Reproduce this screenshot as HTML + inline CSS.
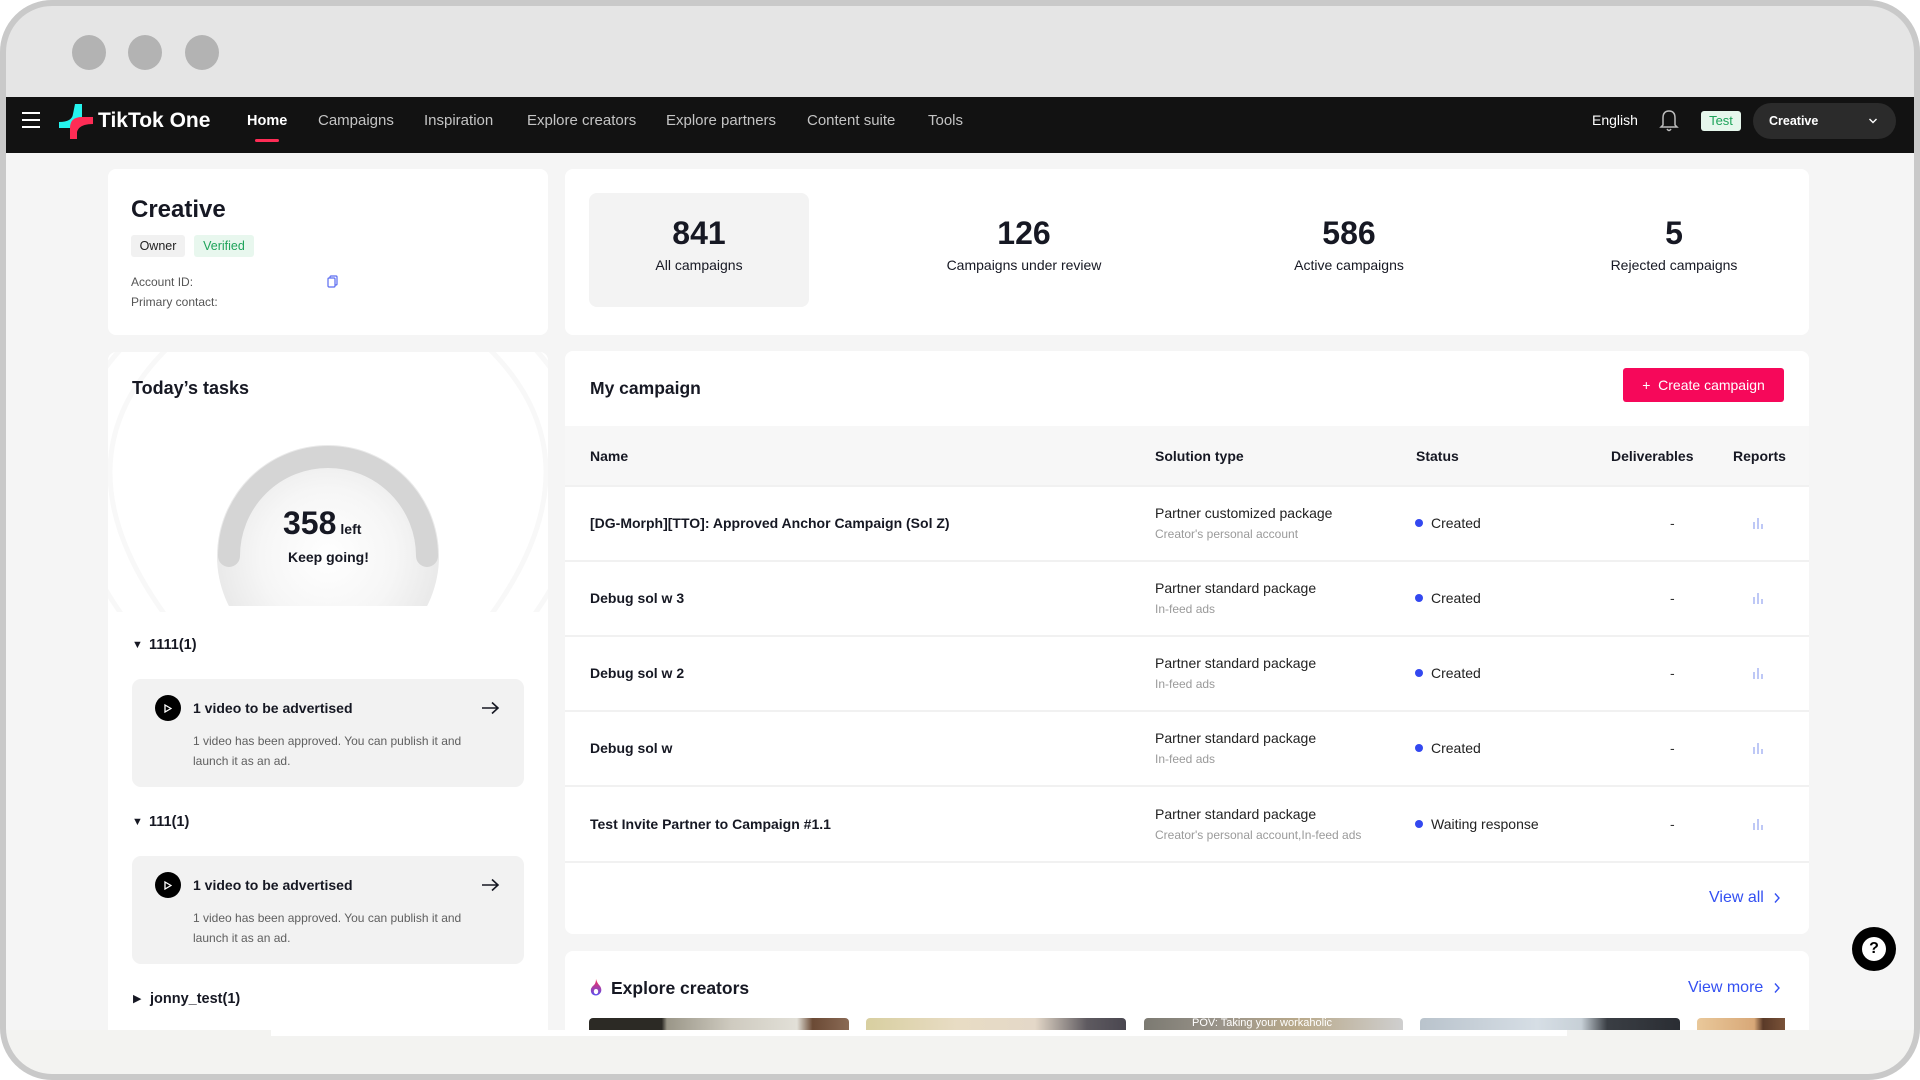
<!DOCTYPE html>
<html><head><meta charset="utf-8">
<style>
*{box-sizing:border-box;margin:0;padding:0}
html,body{width:1920px;height:1080px;overflow:hidden;background:#fff;font-family:"Liberation Sans",Arial,sans-serif;color:#161823}
.a{position:absolute}
.t{position:absolute;white-space:nowrap}
.card{position:absolute;background:#fff;border-radius:8px}
.nav{color:#c4c4c4;font-size:15px;line-height:20px;top:111px}
.th{font-size:14px;font-weight:bold;line-height:18px;top:447px;color:#161823}
.rn{font-size:14px;font-weight:bold;line-height:18px;color:#161823}
.s1{font-size:14px;line-height:18px;color:#222}
.s2{font-size:12px;line-height:16px;color:#9a9a9a}
.st{font-size:14px;line-height:18px;color:#222}
.dot{position:absolute;width:8px;height:8px;border-radius:50%;background:#3348f0}
.dash{font-size:14px;line-height:18px;color:#333}
.div{position:absolute;left:565px;width:1244px;height:2px;background:#f1f1f1}
.num{font-size:32px;font-weight:bold;line-height:36px;color:#161823;text-align:center;width:260px}
.lab{font-size:14px;line-height:18px;color:#161823;text-align:center;width:260px}
.task{position:absolute;left:132px;width:392px;height:108px;background:#f2f2f2;border-radius:9px}
.grp{font-size:14.5px;font-weight:bold;line-height:18px;color:#161823}
</style></head>
<body>
<!-- top chrome -->
<div class="a" style="left:0;top:0;width:1920px;height:97px;background:#e5e5e5"></div>
<div class="a" style="left:72px;top:35px;width:34px;height:35px;border-radius:50%;background:#b3b3b3"></div>
<div class="a" style="left:128px;top:35px;width:34px;height:35px;border-radius:50%;background:#b3b3b3"></div>
<div class="a" style="left:185px;top:35px;width:34px;height:35px;border-radius:50%;background:#b3b3b3"></div>

<!-- nav -->
<div class="a" style="left:0;top:97px;width:1920px;height:56px;background:#121212"></div>
<div class="a" style="left:22px;top:112px;width:18px;height:2px;background:#fff"></div>
<div class="a" style="left:22px;top:119px;width:18px;height:2px;background:#fff"></div>
<div class="a" style="left:22px;top:126px;width:18px;height:2px;background:#fff"></div>
<svg class="a" style="left:56px;top:102px" width="40" height="40" viewBox="56 102 40 40">
<path d="M75 104 L82 104 L82 121 Q82 128 75 128 L59 128 L59 122 Q72 122 73 114 Z" fill="#25f4ee"/>
<path d="M70 139 L70 128 Q70 117 82 117 L93 117 L93 124 Q79 124 77 132 L77 139 Z" fill="#fe2c55"/>
</svg>
<div class="t" style="left:98px;top:108px;font-size:21px;font-weight:bold;color:#fff;line-height:26px">TikTok One</div>
<div class="t nav" style="left:247px;color:#fff;font-weight:bold;font-size:14.5px">Home</div>
<div class="a" style="left:255px;top:139px;width:24px;height:3px;border-radius:2px;background:#fe2c55"></div>
<div class="t nav" style="left:318px">Campaigns</div>
<div class="t nav" style="left:424px">Inspiration</div>
<div class="t nav" style="left:527px">Explore creators</div>
<div class="t nav" style="left:666px">Explore partners</div>
<div class="t nav" style="left:807px">Content suite</div>
<div class="t nav" style="left:928px">Tools</div>
<div class="t" style="left:1592px;top:111px;font-size:14px;line-height:18px;color:#fff">English</div>
<svg class="a" style="left:1658px;top:109px" width="22" height="24" viewBox="0 0 22 24"><path d="M11 2 Q5 2 5 9 L5 16 L3 18 L19 18 L17 16 L17 9 Q17 2 11 2 Z" fill="none" stroke="#bdbdbd" stroke-width="1.5"/><path d="M9 20 Q11 23 13 20" fill="none" stroke="#bdbdbd" stroke-width="1.5"/></svg>
<div class="a" style="left:1701px;top:111px;width:40px;height:20px;border-radius:3px;background:#e6f7ec;color:#1ea35a;font-size:13px;line-height:20px;text-align:center">Test</div>
<div class="a" style="left:1753px;top:103px;width:143px;height:36px;border-radius:18px;background:#2b2b2b"></div>
<div class="t" style="left:1769px;top:113px;font-size:12.5px;font-weight:bold;color:#fff;line-height:16px">Creative</div>
<svg class="a" style="left:1868px;top:117px" width="10" height="8" viewBox="0 0 10 8"><path d="M1.5 2 L5 5.5 L8.5 2" fill="none" stroke="#fff" stroke-width="1.4"/></svg>

<!-- content bg -->
<div class="a" style="left:0;top:153px;width:1920px;height:877px;background:#f5f5f5"></div>

<!-- card1 profile -->
<div class="card" style="left:108px;top:169px;width:440px;height:166px"></div>
<div class="t" style="left:131px;top:196px;font-size:24px;font-weight:bold;line-height:28px">Creative</div>
<div class="a" style="left:131px;top:235px;width:54px;height:22px;border-radius:3px;background:#f1f1f1;font-size:12.5px;line-height:22px;text-align:center;color:#222">Owner</div>
<div class="a" style="left:194px;top:235px;width:60px;height:22px;border-radius:3px;background:#e8f7ee;font-size:12.5px;line-height:22px;text-align:center;color:#1ea35a">Verified</div>
<div class="t" style="left:131px;top:274px;font-size:12px;line-height:16px;color:#555">Account ID:</div>
<div class="t" style="left:131px;top:294px;font-size:12px;line-height:16px;color:#555">Primary contact:</div>
<svg class="a" style="left:327px;top:275px" width="11" height="13" viewBox="0 0 11 13"><rect x="3" y="1" width="7" height="9" rx="1" fill="none" stroke="#5b6cf0" stroke-width="1.2"/><rect x="1" y="3" width="7" height="9" rx="1" fill="#fff" stroke="#5b6cf0" stroke-width="1.2"/></svg>

<!-- card2 stats -->
<div class="card" style="left:565px;top:169px;width:1244px;height:166px"></div>
<div class="a" style="left:589px;top:193px;width:220px;height:114px;border-radius:8px;background:#f3f3f3"></div>
<div class="t num" style="left:569px;top:215px">841</div>
<div class="t lab" style="left:569px;top:256px">All campaigns</div>
<div class="t num" style="left:894px;top:215px">126</div>
<div class="t lab" style="left:894px;top:256px">Campaigns under review</div>
<div class="t num" style="left:1219px;top:215px">586</div>
<div class="t lab" style="left:1219px;top:256px">Active campaigns</div>
<div class="t num" style="left:1544px;top:215px">5</div>
<div class="t lab" style="left:1544px;top:256px">Rejected campaigns</div>

<!-- card3 tasks -->
<div class="card" style="left:108px;top:352px;width:440px;height:678px;overflow:hidden;border-radius:8px 8px 0 0">
<svg class="a" style="left:0;top:0" width="440" height="260" viewBox="108 352 440 260">
<g fill="none" stroke="#f8f8f8" stroke-width="5">
<path d="M372 270 Q720 440 372 740"/>
<path d="M394 250 Q780 440 394 760"/>
<path d="M416 230 Q840 440 416 780"/>
<path d="M438 210 Q900 440 438 800"/>
<path d="M284 270 Q-64 440 284 740"/>
<path d="M262 250 Q-124 440 262 760"/>
<path d="M240 230 Q-184 440 240 780"/>
</g>
<defs><radialGradient id="g1" cx="328" cy="556" r="112" gradientUnits="userSpaceOnUse"><stop offset="0" stop-color="#ffffff"/><stop offset="0.6" stop-color="#f6f6f6"/><stop offset="1" stop-color="#e9e9e9"/></radialGradient>
<clipPath id="cp"><rect x="100" y="300" width="460" height="306"/></clipPath></defs>
<circle cx="328" cy="556" r="111" fill="url(#g1)" clip-path="url(#cp)"/>
<path d="M229 556 A99 99 0 0 1 427 556" fill="none" stroke="#d5d5d5" stroke-width="22" stroke-linecap="round"/>
</svg>
</div>
<div class="t" style="left:132px;top:377px;font-size:18px;font-weight:bold;line-height:22px">Today’s tasks</div>
<div class="t" style="left:283px;top:505px;font-size:32px;font-weight:bold;line-height:36px">358<span style="font-size:14px;margin-left:4px">left</span></div>
<div class="t" style="left:288px;top:548px;font-size:14px;font-weight:bold;line-height:18px">Keep going!</div>

<div class="t" style="left:132px;top:636px;font-size:11px;line-height:18px">▼</div>
<div class="t grp" style="left:149px;top:636px">1111(1)</div>
<div class="task" style="top:679px"></div>
<div class="a" style="left:155px;top:695px;width:26px;height:26px;border-radius:50%;background:#000"></div>
<svg class="a" style="left:164px;top:704px" width="8" height="9" viewBox="0 0 8 9"><path d="M1 1 L7 4.5 L1 8 Z" fill="none" stroke="#fff" stroke-width="1.3"/></svg>
<div class="t" style="left:193px;top:699px;font-size:14px;font-weight:bold;line-height:18px">1 video to be advertised</div>
<svg class="a" style="left:481px;top:701px" width="19" height="14" viewBox="0 0 19 14"><path d="M1 7 L17 7 M11 1.5 L17 7 L11 12.5" fill="none" stroke="#161823" stroke-width="1.6"/></svg>
<div class="a" style="left:193px;top:731px;width:300px;font-size:12px;line-height:20px;color:#5f5f5f">1 video has been approved. You can publish it and launch it as an ad.</div>

<div class="t" style="left:132px;top:813px;font-size:11px;line-height:18px">▼</div>
<div class="t grp" style="left:149px;top:813px">111(1)</div>
<div class="task" style="top:856px"></div>
<div class="a" style="left:155px;top:872px;width:26px;height:26px;border-radius:50%;background:#000"></div>
<svg class="a" style="left:164px;top:881px" width="8" height="9" viewBox="0 0 8 9"><path d="M1 1 L7 4.5 L1 8 Z" fill="none" stroke="#fff" stroke-width="1.3"/></svg>
<div class="t" style="left:193px;top:876px;font-size:14px;font-weight:bold;line-height:18px">1 video to be advertised</div>
<svg class="a" style="left:481px;top:878px" width="19" height="14" viewBox="0 0 19 14"><path d="M1 7 L17 7 M11 1.5 L17 7 L11 12.5" fill="none" stroke="#161823" stroke-width="1.6"/></svg>
<div class="a" style="left:193px;top:908px;width:300px;font-size:12px;line-height:20px;color:#5f5f5f">1 video has been approved. You can publish it and launch it as an ad.</div>

<div class="t" style="left:133px;top:990px;font-size:11px;line-height:18px">▶</div>
<div class="t grp" style="left:150px;top:990px">jonny_test(1)</div>

<!-- card4 campaigns -->
<div class="card" style="left:565px;top:351px;width:1244px;height:583px"></div>
<div class="t" style="left:590px;top:377px;font-size:17.5px;font-weight:bold;line-height:22px;color:#161823">My campaign</div>
<div class="a" style="left:1623px;top:368px;width:161px;height:34px;border-radius:3px;background:#f6085a;color:#fff;font-size:14px;line-height:34px;text-align:center">+&nbsp; Create campaign</div>
<div class="a" style="left:565px;top:426px;width:1244px;height:59px;background:#f7f7f7"></div>
<div class="t th" style="left:590px">Name</div>
<div class="t th" style="left:1155px">Solution type</div>
<div class="t th" style="left:1416px">Status</div>
<div class="t th" style="left:1611px">Deliverables</div>
<div class="t th" style="left:1733px">Reports</div>
<div class="div" style="top:485px"></div>
<div class="div" style="top:560px"></div>
<div class="div" style="top:635px"></div>
<div class="div" style="top:710px"></div>
<div class="div" style="top:785px"></div>
<div class="div" style="top:861px"></div>

<!-- rows -->
<div class="t rn" style="left:590px;top:514px">[DG-Morph][TTO]: Approved Anchor Campaign (Sol Z)</div>
<div class="t s1" style="left:1155px;top:504px">Partner customized package</div>
<div class="t s2" style="left:1155px;top:526px">Creator's personal account</div>
<div class="dot" style="left:1415px;top:519px"></div>
<div class="t st" style="left:1431px;top:514px">Created</div>
<div class="t dash" style="left:1670px;top:514px">-</div>

<div class="t rn" style="left:590px;top:589px">Debug sol w 3</div>
<div class="t s1" style="left:1155px;top:579px">Partner standard package</div>
<div class="t s2" style="left:1155px;top:601px">In-feed ads</div>
<div class="dot" style="left:1415px;top:594px"></div>
<div class="t st" style="left:1431px;top:589px">Created</div>
<div class="t dash" style="left:1670px;top:589px">-</div>

<div class="t rn" style="left:590px;top:664px">Debug sol w 2</div>
<div class="t s1" style="left:1155px;top:654px">Partner standard package</div>
<div class="t s2" style="left:1155px;top:676px">In-feed ads</div>
<div class="dot" style="left:1415px;top:669px"></div>
<div class="t st" style="left:1431px;top:664px">Created</div>
<div class="t dash" style="left:1670px;top:664px">-</div>

<div class="t rn" style="left:590px;top:739px">Debug sol w</div>
<div class="t s1" style="left:1155px;top:729px">Partner standard package</div>
<div class="t s2" style="left:1155px;top:751px">In-feed ads</div>
<div class="dot" style="left:1415px;top:744px"></div>
<div class="t st" style="left:1431px;top:739px">Created</div>
<div class="t dash" style="left:1670px;top:739px">-</div>

<div class="t rn" style="left:590px;top:815px">Test Invite Partner to Campaign #1.1</div>
<div class="t s1" style="left:1155px;top:805px">Partner standard package</div>
<div class="t s2" style="left:1155px;top:827px">Creator's personal account,In-feed ads</div>
<div class="dot" style="left:1415px;top:820px"></div>
<div class="t st" style="left:1431px;top:815px">Waiting response</div>
<div class="t dash" style="left:1670px;top:815px">-</div>

<!-- report icons -->
<svg class="a" style="left:1752px;top:517px" width="12" height="12" viewBox="0 0 12 12"><path d="M2 5V12M6 1V12M10 7V12" stroke="#a9b6f3" stroke-width="1.5"/></svg>
<svg class="a" style="left:1752px;top:592px" width="12" height="12" viewBox="0 0 12 12"><path d="M2 5V12M6 1V12M10 7V12" stroke="#a9b6f3" stroke-width="1.5"/></svg>
<svg class="a" style="left:1752px;top:667px" width="12" height="12" viewBox="0 0 12 12"><path d="M2 5V12M6 1V12M10 7V12" stroke="#a9b6f3" stroke-width="1.5"/></svg>
<svg class="a" style="left:1752px;top:742px" width="12" height="12" viewBox="0 0 12 12"><path d="M2 5V12M6 1V12M10 7V12" stroke="#a9b6f3" stroke-width="1.5"/></svg>
<svg class="a" style="left:1752px;top:818px" width="12" height="12" viewBox="0 0 12 12"><path d="M2 5V12M6 1V12M10 7V12" stroke="#a9b6f3" stroke-width="1.5"/></svg>

<div class="t" style="left:1709px;top:888px;font-size:16px;line-height:20px;color:#3350f2">View all</div>
<svg class="a" style="left:1773px;top:892px" width="8" height="12" viewBox="0 0 8 12"><path d="M2 1.5 L6 6 L2 10.5" fill="none" stroke="#3350f2" stroke-width="1.4"/></svg>

<!-- card5 explore -->
<div class="card" style="left:565px;top:951px;width:1244px;height:79px;border-radius:8px 8px 0 0"></div>
<svg class="a" style="left:590px;top:978px" width="12" height="18" viewBox="0 0 12 18"><defs><linearGradient id="fg" x1="0" y1="0" x2="0" y2="1"><stop offset="0" stop-color="#fe2c55"/><stop offset="1" stop-color="#5a4ff0"/></linearGradient></defs><path d="M6 1 Q7 5 10 8 Q12 11 11 14 Q9 17.5 6 17.5 Q2 17.5 1 14 Q0 10 4 7 Q6 5 6 1 Z" fill="url(#fg)"/><ellipse cx="6" cy="13.5" rx="2.2" ry="2.6" fill="#fff"/></svg>
<div class="t" style="left:611px;top:977px;font-size:17.5px;font-weight:bold;line-height:22px;color:#161823">Explore creators</div>
<div class="t" style="left:1688px;top:978px;font-size:16px;line-height:20px;color:#3350f2">View more</div>
<svg class="a" style="left:1773px;top:982px" width="8" height="12" viewBox="0 0 8 12"><path d="M2 1.5 L6 6 L2 10.5" fill="none" stroke="#3350f2" stroke-width="1.4"/></svg>
<div class="a" style="left:589px;top:1018px;width:260px;height:12px;border-radius:4px 4px 0 0;background:linear-gradient(90deg,#2c2a25 0,#2c2a25 28%,#9a9688 30%,#cfcbc0 55%,#e2e0d8 80%,#6b4a35 86%,#8a6a55 100%)"></div>
<div class="a" style="left:866px;top:1018px;width:260px;height:12px;border-radius:4px 4px 0 0;background:linear-gradient(90deg,#d8cfa0 0,#e8dcc4 35%,#e4d8c8 65%,#5e5a60 85%,#4a4750 100%)"></div>
<div class="a" style="left:1144px;top:1018px;width:259px;height:12px;border-radius:4px 4px 0 0;background:linear-gradient(90deg,#7c7a72 0,#9a948a 30%,#b9a98a 60%,#cfcfcf 100%);overflow:hidden"><div style="position:absolute;left:48px;top:-1px;font-size:11px;line-height:13px;color:#fff;white-space:nowrap">POV: Taking your workaholic</div></div>
<div class="a" style="left:1420px;top:1018px;width:260px;height:12px;border-radius:4px 4px 0 0;background:linear-gradient(90deg,#b9c3cc 0,#d6dee5 45%,#c7d0d7 62%,#3a3e44 72%,#2a2d33 100%)"></div>
<div class="a" style="left:1697px;top:1018px;width:88px;height:12px;border-radius:4px 0 0 0;background:linear-gradient(90deg,#e9c89a 0,#d8a878 65%,#5a3a28 75%,#7a5238 100%)"></div>

<!-- bottom band -->
<div class="a" style="left:0;top:1030px;width:1920px;height:50px;background:#f3f3f1"></div>
<div class="a" style="left:271px;top:1030px;width:1296px;height:6px;background:#fff"></div>

<!-- help -->
<div class="a" style="left:1852px;top:927px;width:44px;height:44px;border-radius:50%;background:#000"></div>
<div class="a" style="left:1862px;top:937px;width:24px;height:24px;border-radius:50%;background:#fff;color:#000;font-size:16px;font-weight:bold;line-height:24px;text-align:center">?</div>

<!-- frame overlay -->
<div class="a" style="left:0;top:0;width:1920px;height:1080px;border:6px solid #c9c9c9;border-radius:52px;box-shadow:0 0 0 80px #fff;pointer-events:none"></div>
</body></html>
